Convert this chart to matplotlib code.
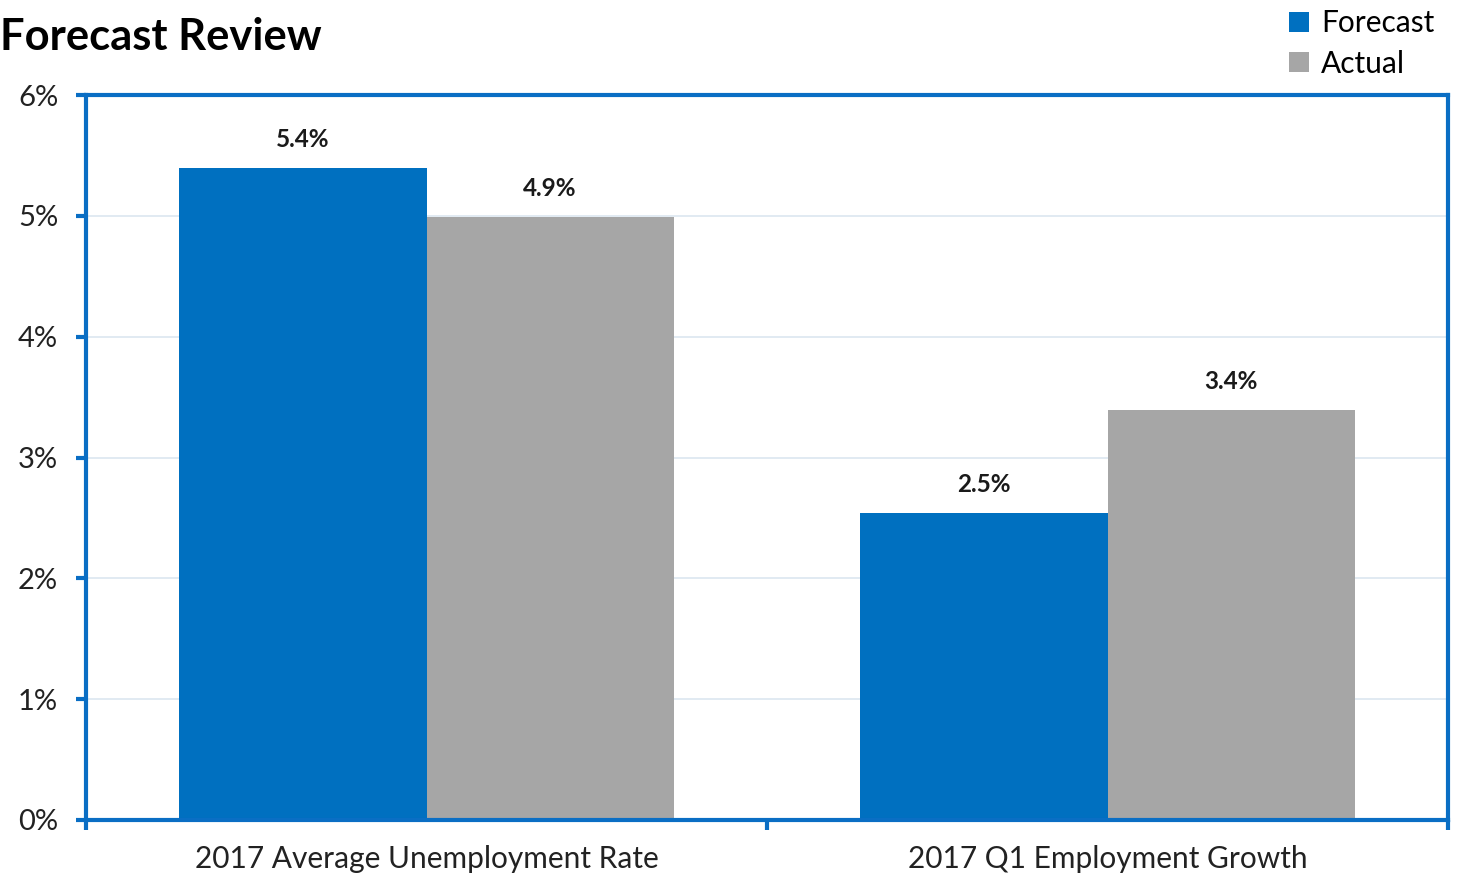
import matplotlib.pyplot as plt
import numpy as np

# chart data
categories = ['2017 Average Unemployment Rate', '2017 Q1 Employment Growth']
forecast = [5.40, 2.54]
actual = [4.99, 3.39]
forecast_labels = ['5.4%', '2.5%']
actual_labels = ['4.9%', '3.4%']
yticks = [0, 1, 2, 3, 4, 5, 6]

BLUE = '#0070C0'
GRAY = '#A6A6A6'
FRAME = '#0A6EC4'

plt.rcParams['font.family'] = ['Lato', 'DejaVu Sans']

fig = plt.figure(figsize=(14.58, 8.77), dpi=100)
ax = fig.add_axes([86 / 1458, 1 - 820 / 877, (1448 - 86) / 1458, (820 - 95) / 877])

x = np.arange(len(categories))
w = 0.363
b1 = ax.bar(x - w / 2, forecast, w, color=BLUE, label='Forecast', zorder=2)
b2 = ax.bar(x + w / 2, actual, w, color=GRAY, label='Actual', zorder=2)

for bars, labels in ((b1, forecast_labels), (b2, actual_labels)):
    for rect, lab in zip(bars, labels):
        ax.text(rect.get_x() + rect.get_width() / 2, rect.get_height() + 0.14, lab,
                ha='center', va='bottom', fontsize=17.5, fontweight='bold', color='#1a1a1a')

ax.set_xlim(-0.5, 1.5)
ax.set_ylim(0, 6)
ax.set_yticks(yticks)
ax.set_yticklabels([f'{t}%' for t in yticks], fontsize=21, color='#222222')
ax.yaxis.grid(True, color='#DCE6F0', linewidth=1.2, zorder=0)
ax.set_axisbelow(True)

# category boundaries get the x ticks
ax.set_xticks([-0.5, 0.5, 1.5])
ax.set_xticklabels([])
ax.set_xticks(x, minor=True)
ax.set_xticklabels(categories, minor=True, fontsize=21.5, color='#222222')
ax.tick_params(axis='x', which='minor', length=0, pad=18)
ax.tick_params(axis='x', which='major', length=7, width=3, color=FRAME, direction='out')
ax.tick_params(axis='y', length=7, width=3, color=FRAME, direction='out', pad=13)

for s in ax.spines.values():
    s.set_color(FRAME)
    s.set_linewidth(3)

fig.text(0.0, 1 - 37 / 877, 'Forecast Review', fontsize=31.3, fontweight='bold',
         ha='left', va='center', color='#000000')

fig.legend(loc='upper right', bbox_to_anchor=(1.002, 1.02), frameon=False, fontsize=21.5,
           handlelength=0.65, handleheight=0.65, handletextpad=0.4, labelspacing=0.42)

fig.savefig('out.png', dpi=100)
